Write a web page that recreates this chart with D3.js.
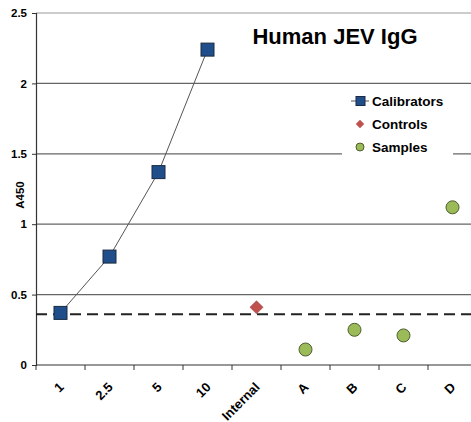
<!DOCTYPE html>
<html><head><meta charset="utf-8">
<script src="https://cdn.jsdelivr.net/npm/d3@7"></script>
<style>body{margin:0;background:#fff}svg{display:block;font-family:Arial,"Liberation Sans",sans-serif}</style>
</head><body><svg id="c" width="471" height="422"></svg>
<script>
const categories = ["1","2.5","5","10","Internal","A","B","C","D"];
const calibrators = [{c:"1",v:0.37},{c:"2.5",v:0.77},{c:"5",v:1.37},{c:"10",v:2.24}];
const controls = [{c:"Internal",v:0.41}];
const samples = [{c:"A",v:0.11},{c:"B",v:0.25},{c:"C",v:0.21},{c:"D",v:1.12}];
const yTicks = [0,0.5,1,1.5,2,2.5];
const cutoff = 0.36;
const title = "Human JEV IgG";
const yLabel = "A450";
const legendItems = ["Calibrators","Controls","Samples"];

const svg = d3.select("#c");
const L = 36, R = 477, T = 13, B = 365;
const x = d3.scaleBand().domain(categories).range([L, R]);
const y = d3.scaleLinear().domain([0, 2.5]).range([B, T]);
const cx = d => x(d) + x.bandwidth()/2;

// gridlines
svg.append("g").selectAll("line").data(yTicks.filter(t=>t>0)).join("line")
  .attr("x1", L).attr("x2", 471).attr("y1", d=>y(d)).attr("y2", d=>y(d))
  .attr("stroke", d=> d===2.5 ? "#999" : "#666").attr("stroke-width", 1.2);

// y axis
const ya = svg.append("g").attr("transform", `translate(${L},0)`)
  .call(d3.axisLeft(y).tickValues(yTicks).tickSize(4).tickFormat(d=>String(d)));
ya.select(".domain").attr("stroke","#333").attr("stroke-width",1.2);
ya.selectAll(".tick line").attr("stroke","#333");
ya.selectAll("text").attr("font-size",11.5).attr("font-weight","bold").attr("fill","#000").attr("x",-9);

// x axis
const xa = svg.append("g").attr("transform", `translate(0,${B})`)
  .call(d3.axisBottom(x).tickSize(0).tickFormat(d=>d));
xa.select(".domain").remove();
svg.append("line").attr("x1",L).attr("x2",471).attr("y1",B).attr("y2",B).attr("stroke","#333").attr("stroke-width",1.2);
svg.append("g").selectAll("line").data(categories).join("line")
  .attr("x1", d=>x(d)).attr("x2", d=>x(d)).attr("y1", B).attr("y2", B+5)
  .attr("stroke","#333");
xa.selectAll("text").attr("font-size",13).attr("font-weight","bold").attr("fill","#000")
  .attr("text-anchor","end").attr("dy",0).attr("y",0)
  .attr("transform","translate(4,23) rotate(-45)");

// y label
svg.append("text").attr("transform","translate(24,195) rotate(-90)")
  .attr("text-anchor","middle").attr("font-size",11.5).attr("font-weight","bold").text(yLabel);

// cutoff dashed
svg.append("line").attr("x1",L).attr("x2",471).attr("y1",y(cutoff)).attr("y2",y(cutoff))
  .attr("stroke","#222").attr("stroke-width",2).attr("stroke-dasharray","11,6");

// calibrator line
svg.append("path").datum(calibrators)
  .attr("d", d3.line().x(d=>cx(d.c)).y(d=>y(d.v)))
  .attr("fill","none").attr("stroke","#555").attr("stroke-width",1);

const sq = 13;
svg.append("g").selectAll("rect").data(calibrators).join("rect")
  .attr("x", d=>cx(d.c)-sq/2).attr("y", d=>y(d.v)-sq/2).attr("width",sq).attr("height",sq)
  .attr("fill","#1F4E8A").attr("stroke","#1a2a40").attr("stroke-width",1);

svg.append("g").selectAll("path").data(controls).join("path")
  .attr("d", d3.symbol(d3.symbolDiamond2 || d3.symbolDiamond, 110)())
  .attr("transform", d=>`translate(${cx(d.c)},${y(d.v)})`)
  .attr("fill","#C0504D").attr("stroke","#8a3a38").attr("stroke-width",0.5);

svg.append("g").selectAll("circle").data(samples).join("circle")
  .attr("cx", d=>cx(d.c)).attr("cy", d=>y(d.v)).attr("r",6.5)
  .attr("fill","#9BBB59").attr("stroke","#4f5e30").attr("stroke-width",1);

// title
svg.append("text").attr("x",335).attr("y",44).attr("text-anchor","middle")
  .attr("font-size",22).attr("font-weight","bold").text(title);

// legend
const lg = svg.append("g");
lg.append("rect").attr("x",342).attr("y",88).attr("width",111).attr("height",68).attr("fill","#fff");
const ly = [101,124,147];
lg.append("line").attr("x1",351).attr("x2",369).attr("y1",ly[0]).attr("y2",ly[0]).attr("stroke","#555");
lg.append("rect").attr("x",356).attr("y",ly[0]-4.5).attr("width",9).attr("height",9).attr("fill","#1F4E8A").attr("stroke","#1a2a40");
lg.append("path").attr("d", d3.symbol(d3.symbolDiamond2 || d3.symbolDiamond, 45)())
  .attr("transform",`translate(360,${ly[1]})`).attr("fill","#C0504D");
lg.append("circle").attr("cx",360).attr("cy",ly[2]).attr("r",4).attr("fill","#9BBB59").attr("stroke","#4f5e30");
lg.selectAll("text.l").data(legendItems).join("text").attr("class","l")
  .attr("x",372).attr("y",(d,i)=>ly[i]+5).attr("font-size",13.5).attr("font-weight","bold").text(d=>d);
</script></body></html>
